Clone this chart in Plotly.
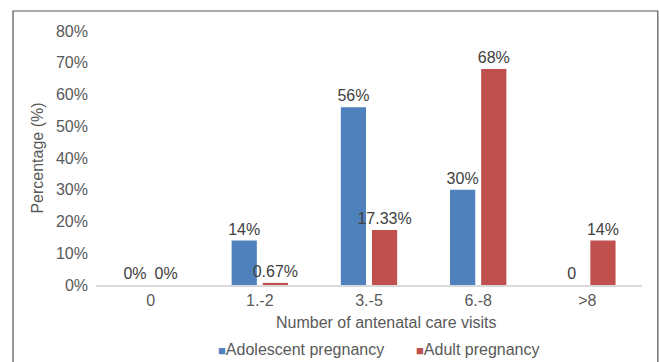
import plotly.graph_objects as go

categories = ["0", "1.-2", "3.-5", "6.-8", ">8"]
adolescent = [0, 14, 56, 30, 0]
adult = [0, 0.67, 17.33, 68, 14]
adolescent_labels = ["0%", "14%", "56%", "30%", "0"]
adult_labels = ["0%", "0.67%", "17.33%", "68%", "14%"]
y_ticks = [0, 10, 20, 30, 40, 50, 60, 70, 80]
y_tick_labels = [f"{v}%" for v in y_ticks]
series_names = ["Adolescent pregnancy", "Adult pregnancy"]
series_colors = ["#4F81BD", "#C0504D"]

FONT = "Liberation Sans, Arial, sans-serif"
TXT = "#595959"

fig = go.Figure()
for name, vals, labels, color in zip(series_names, [adolescent, adult],
                                     [adolescent_labels, adult_labels], series_colors):
    fig.add_trace(go.Bar(
        name=name, x=categories, y=vals,
        marker=dict(color=color, line=dict(width=0)),
        text=labels, textposition="outside", cliponaxis=False, constraintext="none",
        textfont=dict(size=16, color="#404040", family=FONT),
        showlegend=False,
    ))

# legend drawn as text entries
legend_x = [0.22, 0.583]
annotations = []
for name, color, lx in zip(series_names, series_colors, legend_x):
    annotations.append(dict(
        xref="paper", yref="paper", x=lx, y=-0.252, xanchor="left", yanchor="middle",
        showarrow=False,
        text=f'<span style="color:{color};font-size:13px">■</span>{name}',
        font=dict(size=16, color=TXT, family=FONT),
    ))
annotations.append(dict(
    xref="paper", yref="paper", x=0.532, y=-0.146, xanchor="center", yanchor="middle",
    showarrow=False, text="Number of antenatal care visits",
    font=dict(size=16, color=TXT, family=FONT),
))

fig.update_layout(
    width=659, height=362,
    margin=dict(l=96, r=17, t=31, b=77, autoexpand=False),
    paper_bgcolor="white", plot_bgcolor="white",
    font=dict(family=FONT, size=16, color=TXT),
    barmode="group", bargap=0.43, bargroupgap=0.19,
    annotations=annotations,
    shapes=[dict(type="rect", xref="paper", yref="paper",
                 x0=-0.152, x1=1.029, y0=-0.4, y1=1.0787,
                 line=dict(color="#555555", width=1.2), fillcolor="rgba(0,0,0,0)", layer="below")],
)
fig.update_xaxes(
    showline=True, linecolor="#d9d9d9", linewidth=1.5, showgrid=False, ticks="",
    tickfont=dict(size=16, color=TXT), automargin=False,
)
fig.update_yaxes(
    range=[0, 80], tickvals=y_ticks, ticktext=y_tick_labels, showgrid=False,
    showline=False, zeroline=False, ticks="", tickfont=dict(size=16, color=TXT),
    automargin=False, ticklabelstandoff=7,
    title=dict(text="Percentage (%)", font=dict(size=16, color=TXT), standoff=8),
)

fig.write_html("out.html")
